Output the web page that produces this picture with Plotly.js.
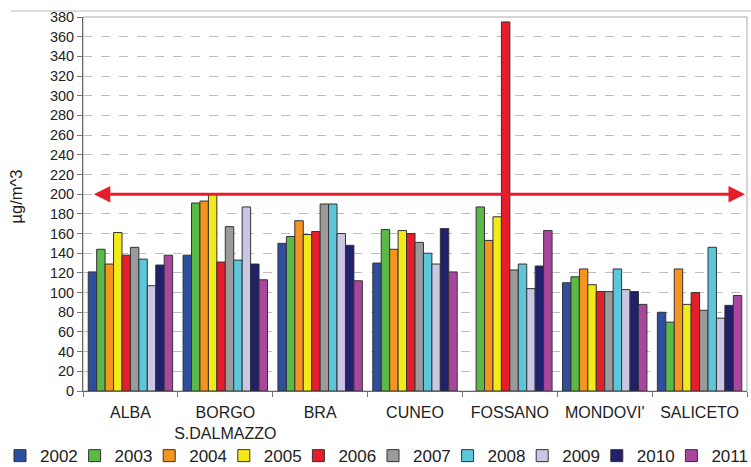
<!DOCTYPE html>
<html>
<head>
<meta charset="utf-8">
<script src="https://cdn.plot.ly/plotly-3.0.1.min.js"></script>
<style>
  html, body { margin: 0; padding: 0; background: #fff; }
  #chart { width: 751px; height: 467px; }
</style>
</head>
<body>
<div id="chart"></div>
<script>
// Monitoring stations (x categories)
const stations = ["ALBA", "BORGO<br>S.DALMAZZO", "BRA", "CUNEO", "FOSSANO", "MONDOVI'", "SALICETO"];

// Yearly values per station, µg/m^3 (null = no measurement)
const y2002 = [121, 138, 150, 130, null, 110, 80];
const y2003 = [144, 191, 157, 164, 187, 116, 70];
const y2004 = [129, 193, 173, 144, 153, 124, 124];
const y2005 = [161, 200, 159, 163, 177, 108, 88];
const y2006 = [138, 131, 162, 160, 375, 101, 100];
const y2007 = [146, 167, 190, 151, 123, 101, 82];
const y2008 = [134, 133, 190, 140, 129, 124, 146];
const y2009 = [107, 187, 160, 129, 104, 103, 74];
const y2010 = [128, 129, 148, 165, 127, 101, 87];
const y2011 = [138, 113, 112, 121, 163, 88, 97];

const years = ["2002", "2003", "2004", "2005", "2006", "2007", "2008", "2009", "2010", "2011"];
const series = [y2002, y2003, y2004, y2005, y2006, y2007, y2008, y2009, y2010, y2011];
const colors = ["#2F4E9E", "#5BB947", "#F5941F", "#F3EA1A", "#E61E2B",
                "#9B9B9B", "#5CC6DA", "#C9C7E4", "#20206C", "#A9479E"];

// Reference limit drawn as a double-headed arrow
const limitValue = 200;
const unitLabel = "µg/m^3";

const yTicks = [];
for (let v = 0; v <= 380; v += 20) yTicks.push(v);

const font = "Liberation Sans, Arial, sans-serif";
const W = 751, H = 467;

// one legend box per year, laid out as a single evenly spaced row
const legendId = i => (i === 0 ? "legend" : "legend" + (i + 1));
const legendStep = 74.6;

const traces = years.map((yr, i) => ({
  type: "bar",
  name: yr,
  x: stations,
  y: series[i],
  legend: legendId(i),
  marker: { color: colors[i], line: { color: "#333333", width: 1 } },
  hoverinfo: "x+y+name"
}));

const layout = {
  width: W,
  height: H,
  margin: { l: 83, r: 4, t: 17, b: 76, autoexpand: false },
  paper_bgcolor: "#ffffff",
  plot_bgcolor: "#ffffff",
  font: { family: font, color: "#222222" },
  barmode: "group",
  bargap: 0.11,
  bargroupgap: 0,
  showlegend: true,
  xaxis: {
    type: "category",
    tickson: "boundaries",
    tickangle: 0,
    ticks: "outside",
    ticklen: 5,
    tickcolor: "#777777",
    ticklabelstandoff: 7,
    showline: true,
    linecolor: "#666666",
    linewidth: 1,
    showgrid: false,
    tickfont: { size: 16, family: font, color: "#222222" },
    fixedrange: true
  },
  yaxis: {
    range: [0, 380],
    tickvals: yTicks,
    ticks: "outside",
    ticklen: 5,
    tickcolor: "#777777",
    showline: true,
    linecolor: "#666666",
    linewidth: 1,
    showgrid: true,
    gridcolor: "#bdbdbd",
    griddash: "dash",
    gridwidth: 1,
    zeroline: false,
    tickfont: { size: 14.5, family: font, color: "#222222" },
    fixedrange: true
  },
  shapes: [
    // plot frame
    { type: "rect", xref: "paper", yref: "paper", x0: 0, x1: 1, y0: 0, y1: 1,
      line: { color: "#aaaaaa", width: 1 }, layer: "below" },
    // outer chart border line
    { type: "line", xref: "paper", yref: "paper", x0: -0.109, x1: 1.01, y0: 1.016, y1: 1.016,
      line: { color: "#bbbbbb", width: 1 } }
  ],
  annotations: [
    // y-axis unit label
    {
      xref: "paper", yref: "paper", x: -0.101, y: 0.52,
      xanchor: "center", yanchor: "middle", textangle: -90,
      text: unitLabel, showarrow: false,
      font: { size: 16.5, family: font, color: "#222222" }
    },
    // limit line
    {
      xref: "x domain", yref: "y", x: 0.997, y: limitValue,
      axref: "x domain", ayref: "y", ax: 0.014, ay: limitValue,
      showarrow: true, text: "",
      arrowhead: 2, startarrowhead: 2, arrowside: "end+start",
      arrowsize: 1.1, startarrowsize: 1.1, arrowwidth: 3, arrowcolor: "#E61E2B"
    }
  ]
};

years.forEach((yr, i) => {
  layout[legendId(i)] = {
    orientation: "h",
    xref: "container",
    yref: "paper",
    x: (i * legendStep) / W,
    xanchor: "left",
    y: -0.174,
    yanchor: "middle",
    font: { size: 17, family: font, color: "#222222" },
    itemwidth: 30,
    bgcolor: "rgba(0,0,0,0)"
  };
});

Plotly.newPlot("chart", traces, layout, { displayModeBar: false, staticPlot: true });
</script>
</body>
</html>
